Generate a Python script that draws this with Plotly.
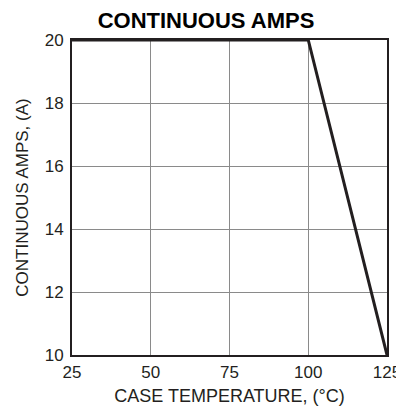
import plotly.graph_objects as go

temperatur = [25, 100, 125]
ampere = [20, 20, 10]
x_ticks = [25, 50, 75, 100, 125]
y_ticks = [10, 12, 14, 16, 18, 20]

fig = go.Figure()
fig.add_trace(go.Scatter(
    x=temperatur,
    y=ampere,
    mode="lines",
    line=dict(color="#231f20", width=3),
    showlegend=False,
    cliponaxis=False
))

# page body has an 8px margin, so the figure is shifted by 8px
fig.update_layout(
    width=396,
    height=399,
    margin=dict(l=64, r=17, t=32, b=52),
    paper_bgcolor="white",
    plot_bgcolor="white",
    font=dict(family="Liberation Sans, Arial, sans-serif", size=17, color="#231f20"),
    title=dict(
        text="<b>CONTINUOUS AMPS</b>",
        x=0.5, xanchor="center",
        y=0.97, yanchor="middle",
        font=dict(size=22, color="#000000")
    ),
    xaxis=dict(
        range=[25, 125],
        tickvals=x_ticks,
        showgrid=True,
        gridcolor="#8a8a8a",
        gridwidth=1,
        showline=True,
        linecolor="#231f20",
        linewidth=2,
        mirror=True,
        zeroline=False,
        ticks="",
        automargin=False,
        ticklabeloverflow="allow",
        ticklabelstandoff=1,
        title=dict(text="CASE TEMPERATURE, (°C)", standoff=8, font=dict(size=18))
    ),
    yaxis=dict(
        range=[10, 20],
        tickvals=y_ticks,
        showgrid=True,
        gridcolor="#8a8a8a",
        gridwidth=1,
        showline=True,
        linecolor="#231f20",
        linewidth=2,
        mirror=True,
        zeroline=False,
        ticks="",
        automargin=False,
        ticklabelstandoff=3,
        title=dict(text="CONTINUOUS AMPS, (A)", standoff=12, font=dict(size=17))
    )
)

fig.write_html("out.html")
